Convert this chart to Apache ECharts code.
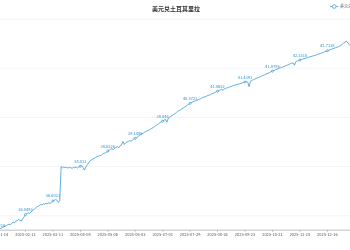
<!DOCTYPE html>
<html>
<head>
<meta charset="utf-8">
<script src="https://cdn.jsdelivr.net/npm/echarts@6/dist/echarts.min.js"></script>
<style>
html,body{margin:0;padding:0;width:350px;height:250px;overflow:hidden;background:#fff;}
#chart{position:absolute;left:-60px;top:0;width:1416px;height:750px;transform:scale(0.33333);transform-origin:0 0;}
</style>
</head>
<body>
<div id="chart"></div>
<script>
const titleText = '美元兑土耳其里拉';
const seriesName = '美元兑土耳其里拉';
const firstDate = '2025-01-14';
const lastDate = '2026-01-08';
const yMax = 44;
const values = [
  35.4216, 35.4532, 35.4871, 35.5105, 35.5489, 35.5702, 35.5968, 35.6311, 35.6587, 35.6352,
  35.6954, 35.7380, 35.7126, 35.7751, 35.8042, 35.8437, 35.8164, 35.7893, 35.8802, 35.9517,
  36.0493, 36.0812, 36.1230, 36.0968, 36.1507, 36.2044, 36.2398, 36.3025, 36.3489, 36.3812,
  36.4135, 36.4507, 36.4386, 36.4819, 36.4702, 36.5043, 36.4891, 36.5237, 36.5012, 36.5428,
  36.6021, 36.6243, 36.6618, 36.6305, 36.5472, 36.6127, 38.0024, 37.9512, 37.9836, 37.9604,
  37.9718, 37.9402, 37.9631, 37.9527, 37.9315, 37.9643, 37.9509, 37.9822, 37.9418, 37.9907,
  38.0110, 38.0326, 37.9615, 37.8603, 37.9821, 38.0794, 38.1512, 38.2236, 38.2719, 38.3048,
  38.3312, 38.3645, 38.4027, 38.4218, 38.4536, 38.4402, 38.5015, 38.5324, 38.5517, 38.5806,
  38.6326, 38.6612, 38.7035, 38.7241, 38.6903, 38.7426, 38.7817, 38.8219, 38.7634, 38.8512,
  38.8836, 39.0218, 38.9027, 38.9614, 39.0012, 39.0235, 39.0518, 39.0307, 39.0826, 39.1204,
  39.1486, 39.1812, 39.2207, 39.2619, 39.3012, 39.3324, 39.3617, 39.4035, 39.4318, 39.4527,
  39.4816, 39.5203, 39.5512, 39.5837, 39.6214, 39.6608, 39.7012, 39.7415, 39.7826, 39.8203,
  39.8460, 39.8817, 39.9205, 39.8012, 39.9516, 40.0023, 40.0418, 40.0806, 40.1215, 40.1527,
  40.2012, 40.2416, 40.2817, 40.3024, 40.3518, 40.3812, 40.4207, 40.4526, 40.5012, 40.5318,
  40.5721, 40.6015, 40.6312, 40.6527, 40.6814, 40.7008, 40.7216, 40.7412, 40.7718, 40.8015,
  40.8214, 40.8426, 40.8617, 40.8912, 40.9107, 40.9318, 40.9612, 40.9815, 41.0107, 41.0412,
  41.0652, 41.0917, 41.1206, 41.1415, 41.1017, 41.1612, 41.1814, 41.2023, 41.2215, 41.2418,
  41.2612, 41.2816, 41.3017, 41.3208, 41.3315, 41.3512, 41.3618, 41.3817, 41.4012, 41.4206,
  41.4391, 41.4615, 41.4307, 41.2512, 41.4718, 41.5012, 41.5318, 41.5507, 41.5812, 41.6014,
  41.6217, 41.6508, 41.6812, 41.7015, 41.7216, 41.7512, 41.7718, 41.8013, 41.8306, 41.8612,
  41.8795, 41.9012, 41.9317, 41.9508, 41.9712, 42.0013, 42.0215, 42.0418, 42.0612, 42.0815,
  42.1012, 42.1316, 42.1518, 42.1812, 42.2014, 42.2215, 42.1216, 42.2612, 42.2915, 42.3107,
  42.3318, 42.3512, 42.3715, 42.3816, 42.4012, 42.4215, 42.4418, 42.4612, 42.4715, 42.4912,
  42.5015, 42.5218, 42.5412, 42.5616, 42.5812, 42.6015, 42.6218, 42.6412, 42.6618, 42.6907,
  42.7118, 42.7315, 42.7512, 42.7716, 42.7912, 42.8115, 42.8318, 42.8512, 42.8716, 42.8912,
  42.9315, 42.9812, 43.0215, 43.0612, 43.1016, 43.0218, 42.9512, 42.9716
];

// category labels: trading (week) days between firstDate and lastDate
function weekdayDates(a, b) {
  const out = [];
  const d = new Date(a + 'T00:00:00Z');
  const end = new Date(b + 'T00:00:00Z');
  while (d <= end) {
    const w = d.getUTCDay();
    if (w !== 0 && w !== 6) out.push(d.toISOString().slice(0, 10));
    d.setUTCDate(d.getUTCDate() + 1);
  }
  return out;
}
const dates = weekdayDates(firstDate, lastDate);

const lineColor = '#2b8fd3';
const chart = echarts.init(document.getElementById('chart'), null, {renderer: 'canvas', devicePixelRatio: 1 / 3});
chart.setOption({
  animation: false,
  textStyle: {fontFamily: "'Noto Sans CJK SC', sans-serif"},
  title: {text: titleText, left: 'center', top: 12, textStyle: {color: '#333', fontSize: 18}},
  legend: {data: [seriesName], left: 1164, top: 8},
  grid: {left: 174, right: 184, top: 57, bottom: 60},
  xAxis: {
    type: 'category',
    data: dates,
    boundaryGap: false,
    axisLabel: {interval: 19}
  },
  yAxis: {
    type: 'value',
    min: 'dataMin',
    max: yMax,
    splitNumber: 4
  },
  series: [{
    name: seriesName,
    type: 'line',
    data: values,
    color: lineColor,
    lineStyle: {width: 2.2},
    label: {show: true, position: 'top', color: lineColor}
  }]
});
</script>
</body>
</html>
